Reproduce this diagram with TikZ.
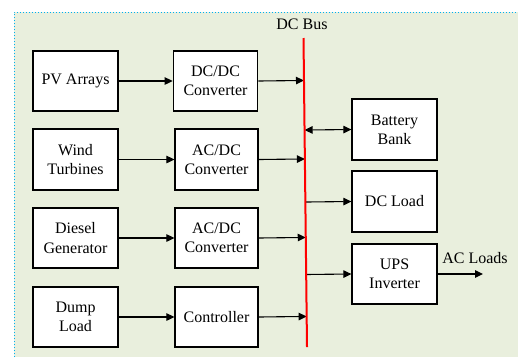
\documentclass[tikz,border=0pt]{standalone}
\usepackage{fontspec}
\setmainfont{Liberation Serif}
\usetikzlibrary{arrows.meta,calc}

\definecolor{panelfill}{RGB}{233,239,221}
\definecolor{paneledge}{RGB}{0,176,240}

\tikzset{
  blk/.style={draw=black, line width=1.2pt, fill=white, inner sep=0pt,
              align=center, font=\fontsize{16}{19.3}\selectfont},
  lbl/.style={inner sep=0pt, anchor=base, font=\fontsize{16}{19.3}\selectfont},
  arr/.style={line width=1.1pt, -{Triangle[length=8pt,width=7.5pt]}},
  dblarr/.style={line width=1.1pt, {Triangle[length=8pt,width=7.5pt]}-{Triangle[length=8pt,width=7.5pt]}},
  bus/.style={draw=red, line width=2pt}
}

\begin{document}
\begin{tikzpicture}[x=1pt,y=-1pt]
  \useasboundingbox (0,0) rectangle (518,357);

  % panel
  \fill[panelfill] (14,12) rectangle (518,357);
  \draw[paneledge, dotted, line width=1pt] (14,357) -- (14,12) -- (518,12);

  % sources
  \node[blk, minimum width=85pt, minimum height=60pt] (pv)     at (75.5,81)    {PV Arrays};
  \node[blk, minimum width=85pt, minimum height=61pt] (wind)   at (75.5,159.5) {Wind\\Turbines};
  \node[blk, minimum width=85pt, minimum height=60pt] (diesel) at (75.5,238)   {Diesel\\Generator};
  \node[blk, minimum width=85pt, minimum height=60pt] (dump)   at (75.5,317)   {Dump\\Load};

  % converters
  \node[blk, minimum width=84.5pt, minimum height=60pt] (dcdc)  at (215.5,81)    {DC/DC\\Converter};
  \node[blk, minimum width=83pt, minimum height=61pt]   (acdcA) at (216.5,159.5) {AC/DC\\Converter};
  \node[blk, minimum width=83pt, minimum height=60pt]   (acdcB) at (216.5,238)   {AC/DC\\Converter};
  \node[blk, minimum width=83pt, minimum height=60pt]   (ctrl)  at (216.5,317)   {Controller};

  % loads and storage
  \node[blk, minimum width=85pt, minimum height=61pt] (bat) at (394.5,129.5) {Battery\\Bank};
  \node[blk, minimum width=85pt, minimum height=61pt] (dcl) at (394.5,201.5) {DC Load};
  \node[blk, minimum width=85pt, minimum height=60pt] (ups) at (394.5,274)   {UPS\\Inverter};

  % bus ends and labels
  \coordinate (bt) at (303.5,38);
  \coordinate (bb) at (307,347);
  \node[lbl] (buslbl) at (302,29.3) {DC Bus};
  \coordinate (acend) at (483,274);
  \node[lbl] (aclbl) at (475,263) {AC Loads};

  % source to converter
  \draw[arr] (pv.east) -- (dcdc.west);
  \draw[arr] (wind.east) -- (acdcA.west);
  \draw[arr] (diesel.east) -- (acdcB.west);
  \draw[arr] (dump.east) -- (ctrl.west);

  % converter to bus
  \draw[arr] (dcdc.east)  -- ($(bt)!(dcdc.east)!(bb)$);
  \draw[arr] (acdcA.east) -- ($(bt)!(acdcA.east)!(bb)$);
  \draw[arr] (acdcB.east) -- ($(bt)!(acdcB.east)!(bb)$);
  \draw[arr] (ctrl.east)  -- ($(bt)!(ctrl.east)!(bb)$);

  % bus to storage and loads
  \draw[dblarr] ($(bt)!(bat.west)!(bb)$) -- (bat.west);
  \draw[arr] ($(bt)!(dcl.west)!(bb)$) -- (dcl.west);
  \draw[arr] ($(bt)!(ups.west)!(bb)$) -- (ups.west);
  \draw[arr] (ups.east) -- (acend);

  % DC bus
  \draw[bus] (bt) -- (bb);
\end{tikzpicture}
\end{document}
